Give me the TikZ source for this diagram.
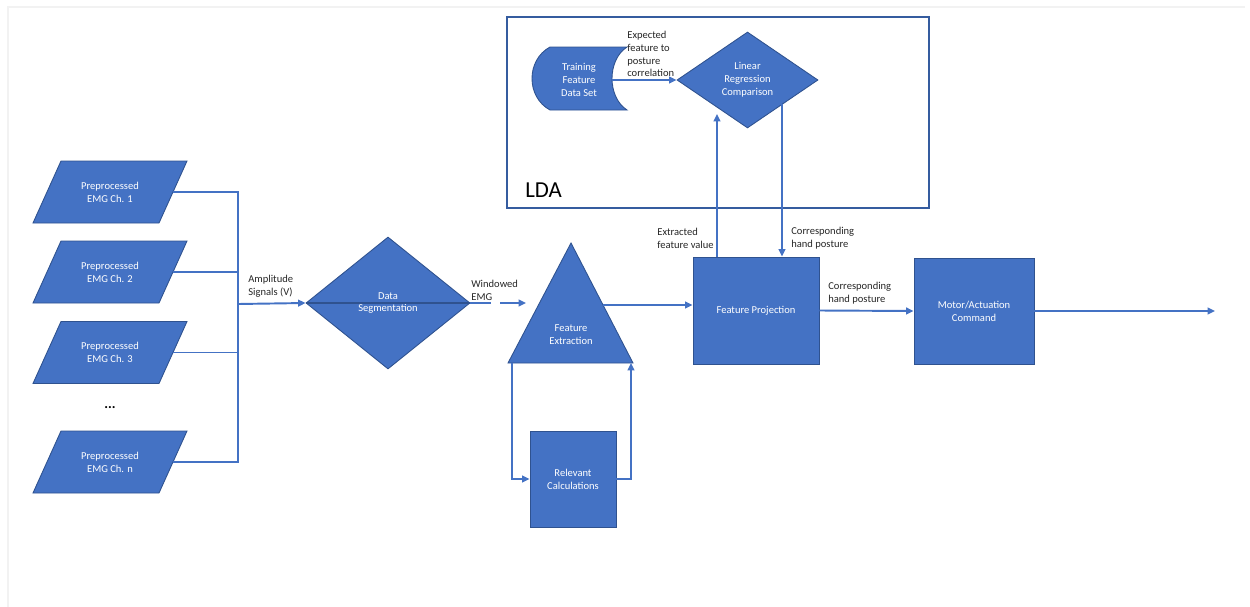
\documentclass[tikz,border=0pt]{standalone}
\usepackage{fontspec}
\setmainfont{Carlito}
\usetikzlibrary{shapes.geometric,arrows.meta}
\definecolor{obl}{HTML}{4472C4}
\definecolor{odk}{HTML}{2F528F}
\definecolor{txt}{HTML}{262626}
\newcommand\paragram[2]{\path[shp] ({#1-77},{#2+31}) -- ({#1+49},{#2+31}) -- ({#1+77},{#2-31}) -- ({#1-49},{#2-31}) -- cycle;}
\begin{document}
\begin{tikzpicture}[x=0.2mm,y=-0.2mm,
  shp/.style={fill=obl,draw=odk,line width=0.5pt,text=white,font=\fontsize{6}{7.3}\selectfont,align=center,inner sep=0pt},
  boxn/.style n args={2}{shp,rectangle,minimum width=#1,minimum height=#2},
  diam/.style n args={2}{shp,diamond,minimum width=#1,minimum height=#2},
  para/.style={rectangle,minimum width=25.2mm,minimum height=12.4mm,text=white,font=\fontsize{6}{7.3}\selectfont,align=center,inner sep=0pt},
  intext/.style={text=white,font=\fontsize{6}{7.3}\selectfont,align=center,inner sep=0pt},
  lab/.style={text=txt,font=\fontsize{6}{7.3}\selectfont,align=left,inner sep=0pt,anchor=west},
  wire/.style={draw=obl,line width=1.1pt},
  thinw/.style={draw=obl,line width=0.6pt},
  arr/.style={wire,-{Triangle[length=4.2pt,width=3.8pt]}}
]
\useasboundingbox (0,0) rectangle (1250,607);
\draw[gray!10,line width=0.8pt] (8,607) -- (8,7) -- (1245,7);

% LDA container
\node[draw=odk!70!obl,line width=0.8pt,minimum width=84.4mm,minimum height=38.2mm,inner sep=0pt] (lda) at (718,112.5) {};
\node[text=black,font=\fontsize{13}{15}\selectfont,anchor=west,inner sep=0pt] (ldalab) at (525,190) {LDA};

% input channels
\paragram{110}{192}
\node[para] (p1) at (110,192) {Preprocessed\\EMG Ch. 1};
\paragram{110}{272}
\node[para] (p2) at (110,272) {Preprocessed\\EMG Ch. 2};
\paragram{110}{352.5}
\node[para] (p3) at (110,352.5) {Preprocessed\\EMG Ch. 3};
\node[text=black,font=\fontsize{8}{9}\selectfont,inner sep=0pt] (dots) at (110,408) {\textbf{...}};
\paragram{110}{462}
\node[para] (pn) at (110,462) {Preprocessed\\EMG Ch. n};

% main chain
\node[diam={32.8mm}{26.4mm}] (ds) at (388,303) {Data\\Segmentation};
\path[shp] (571,243) -- (633,363) -- (508,363) -- cycle;
\node[intext] (fe) at (571,334.5) {Feature\\Extraction};
\node[boxn={17.2mm}{19.2mm}] (rc) at (573,479) {Relevant\\Calculations};
\node[boxn={25.2mm}{21.4mm}] (fp) at (756,310.5) {Feature Projection};
\node[boxn={24mm}{21.2mm}] (mc) at (974,311) {Motor/Actuation\\Command};

% LDA contents
\path[shp] (550,47) -- (627,47) .. controls (607,60) and (607,97) .. (627,110) -- (550,110) .. controls (526,97) and (526,60) .. (550,47) -- cycle;
\node[intext] (td) at (579,80) {Training\\Feature\\Data Set};
\node[diam={28.2mm}{19.2mm}] (lr) at (747.5,80) {Linear\\Regression\\Comparison};

% coordinates
\coordinate (bj) at (238,304);
\coordinate (win) at (526,303);
\coordinate (feo) at (603,305);
\coordinate (feL) at (512,363);
\coordinate (feR) at (631,363);
\coordinate (exc) at (717,114);
\coordinate (cpc) at (782,104);
\coordinate (tdR) at (612,80);
\coordinate (out) at (1215,311);

% connectors
\draw[wire] (p1.east) -| (bj);
\draw[wire] (p2.east) -| (bj);
\draw[thinw] (p3.east) -| (bj);
\draw[thinw] (pn.east) -| (bj);
\draw[arr] (bj) -- (ds.west);
\draw[draw=odk,line width=0.8pt] (ds.west) -- (ds.east);
\draw[arr,dash pattern=on 11.9pt off 5.1pt on 40pt] (ds.east) -- (win);
\draw[arr] (feo) -- (feo -| fp.west);
\draw[arr] (feL) |- (rc.west);
\draw[arr] (rc.east) -| (feR);
\draw[arr] (fp.north -| exc) -- (exc);
\draw[arr] (cpc) -- (fp.north -| cpc);
\draw[arr] (tdR) -- (lr.west);
\draw[arr] (fp.east) -- (mc.west);
\draw[arr] (mc.east) -- (out);

% labels
\node[lab] (l1) at (248,286) {Amplitude\\Signals (V)};
\node[lab] (l2) at (471,290) {Windowed\\EMG};
\node[lab] (l3) at (627,54) {Expected\\feature to\\posture\\correlation};
\node[lab] (l4) at (657,238.5) {Extracted\\feature value};
\node[lab] (l5) at (791,238.5) {Corresponding\\hand posture};
\node[lab] (l6) at (828,293.5) {Corresponding\\hand posture};
\end{tikzpicture}
\end{document}
